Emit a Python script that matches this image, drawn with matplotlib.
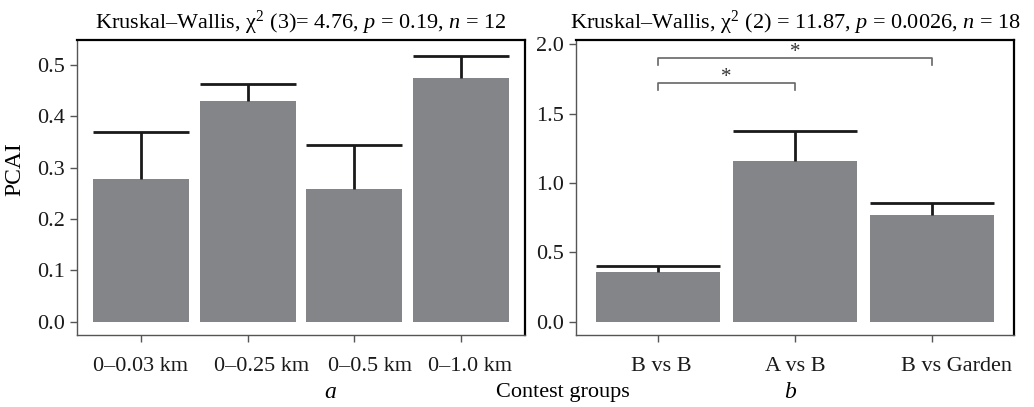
import matplotlib
matplotlib.use("Agg")
import matplotlib.pyplot as plt
import matplotlib.transforms as mtransforms

plt.rcParams["font.family"] = ["Liberation Serif", "DejaVu Serif"]
plt.rcParams["mathtext.fontset"] = "custom"
plt.rcParams["mathtext.rm"] = "Liberation Serif"
plt.rcParams["mathtext.it"] = "Liberation Serif:italic"

# panel a: distance classes
dist_labels = ["0–0.03 km", "0–0.25 km", "0–0.5 km", "0–1.0 km"]
dist_mean = [0.278, 0.429, 0.258, 0.475]
dist_se = [0.092, 0.034, 0.086, 0.043]

# panel b: contest groups
group_labels = ["B vs B", "A vs B", "B vs Garden"]
group_mean = [0.362, 1.158, 0.770]
group_se = [0.041, 0.218, 0.088]

# significance brackets (pairs of group indices, height)
sig_pairs = [(0, 1), (0, 2)]
sig_height = [1.717, 1.897]

bar_col = "#848589"
axis_grey = "#555555"
fs = 16

fig = plt.figure(figsize=(10.34, 4.07), dpi=100)
ax_a = fig.add_axes([0.0745, 0.177, 0.433, 0.725])
ax_b = fig.add_axes([0.557, 0.177, 0.4237, 0.725])


def draw_bars(ax, means, ses, labels, shifts):
    x = list(range(len(means)))
    ax.bar(x, means, width=0.9, color=bar_col, zorder=2)
    for xi, m, s in zip(x, means, ses):
        ax.vlines(xi, m, m + s, color="#1a1a1a", lw=2, zorder=3)
        ax.hlines(m + s, xi - 0.45, xi + 0.45, color="#1a1a1a", lw=2, zorder=3)
    ax.set_xticks(x)
    ax.set_xticklabels(labels, fontsize=fs)
    ax.set_xlim(-0.6, len(means) - 0.4)
    for side in ["top", "right"]:
        ax.spines[side].set_color("black")
        ax.spines[side].set_linewidth(1.6)
    for side in ["left", "bottom"]:
        ax.spines[side].set_color(axis_grey)
        ax.spines[side].set_linewidth(1.0)
    ax.tick_params(axis="both", colors=axis_grey, labelcolor="#1a1a1a",
                   length=5, width=1, labelsize=fs)
    ax.tick_params(axis="x", pad=11)
    # the labels in the original are not quite centred on their ticks
    for lbl, dx in zip(ax.get_xticklabels(), shifts):
        off = mtransforms.ScaledTranslation(dx / 100, 0, fig.dpi_scale_trans)
        lbl.set_transform(lbl.get_transform() + off)


draw_bars(ax_a, dist_mean, dist_se, dist_labels, [0, 14, 16, 9])
ax_a.set_ylim(-0.026, 0.549)
ax_a.set_yticks([0.0, 0.1, 0.2, 0.3, 0.4, 0.5])
ax_a.set_yticklabels(["0.0", "0.1", "0.2", "0.3", "0.4", "0.5"])
ax_a.set_title(r"Kruskal–Wallis, χ$^2$ (3)= 4.76, $p$ = 0.19, $n$ = 12",
               fontsize=fs, pad=8)

draw_bars(ax_b, group_mean, group_se, group_labels, [3, 0, 25])
ax_b.set_ylim(-0.094, 2.03)
ax_b.set_yticks([0.0, 0.5, 1.0, 1.5, 2.0])
ax_b.set_yticklabels(["0.0", "0.5", "1.0", "1.5", "2.0"])
ax_b.set_title(r"Kruskal–Wallis, χ$^2$ (2) = 11.87, $p$ = 0.0026, $n$ = 18",
               fontsize=fs, pad=8)

for (i, j), h in zip(sig_pairs, sig_height):
    ax_b.plot([i, i, j, j], [h - 0.045, h, h, h - 0.045],
              color="#666666", lw=1.2, zorder=3)
    ax_b.text((i + j) / 2, h + 0.045, "*", ha="center", va="center",
              fontsize=15, color="#333333")

fig.text(0.0145, 0.585, "PCAI", rotation=90, ha="center", va="center", fontsize=17)
fig.text(0.544, 0.036, "Contest groups", ha="center", va="center", fontsize=fs)
fig.text(0.319, 0.036, "a", style="italic", ha="center", va="center", fontsize=17)
fig.text(0.764, 0.036, "b", style="italic", ha="center", va="center", fontsize=17)

fig.savefig("out.png", dpi=100, facecolor="white")
